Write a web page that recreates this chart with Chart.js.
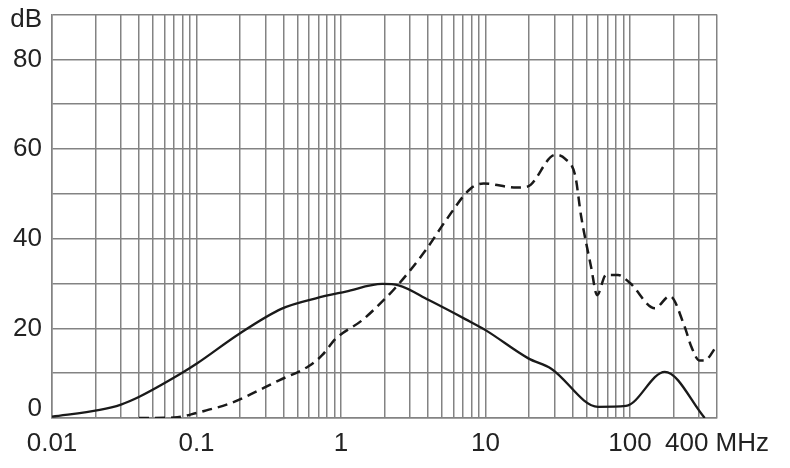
<!DOCTYPE html>
<html>
<head>
<meta charset="utf-8">
<script src="https://cdn.jsdelivr.net/npm/chart.js@4/dist/chart.umd.min.js"></script>
<style>
html,body{margin:0;padding:0;background:#fff;}
#wrap{width:790px;height:468px;}
</style>
</head>
<body>
<div id="wrap"><canvas id="c" width="790" height="468"></canvas></div>
<script>
// Frequency (MHz) and attenuation (dB)
const solidFreq = [0.01, 0.0214, 0.03, 0.0405, 0.076, 0.1, 0.198, 0.39, 0.67, 1.08, 1.93, 2.5, 4.05, 7.3, 10, 19.8, 28.5, 60, 93.8, 174, 329];
const solidDb   = [0.3, 1.8, 3.0, 4.8, 9.7, 12.1, 18.8, 24.4, 26.7, 28.2, 29.9, 29.6, 26.3, 22, 19.6, 13.3, 11, 2.5, 2.7, 10.3, 0];

const dashFreq = [0.04, 0.07, 0.1, 0.117, 0.169, 0.373, 0.6, 0.74, 0.92, 1.4, 2.03, 2.39, 3.85, 5.3, 7.9, 9.7, 16.4, 19.5, 30.4, 35.6, 41.8, 45.9, 53.8, 59.2, 68.2, 82.6, 100, 148.6, 188.8, 238, 265, 303, 327, 400];
const dashDb   = [0, 0.1, 1.1, 1.7, 3.2, 8.4, 11.6, 14, 17.7, 21.8, 26.7, 29.1, 37.4, 44, 51.2, 52.3, 51.4, 51.6, 58.7, 57.8, 54, 45, 33.7, 27.4, 31.9, 31.9, 30.1, 24.5, 27.2, 20.5, 16, 12.8, 12.8, 16.2];

const xMajorTicks  = [0.01, 0.1, 1, 10, 100, 400];
const xTickLabels  = ['0.01', '0.1', '1', '10', '100', '400 MHz'];
const yTickValues  = [0, 20, 40, 60, 80, 90];
const yTickLabels  = ['0', '20', '40', '60', '80', 'dB'];

const X_MIN = 0.01, X_MAX = 400, Y_MIN = 0, Y_MAX = 90;

function toPoints(xs, ys){ return xs.map((x,i)=>({x:x, y:ys[i]})); }
function near(a,b){ return Math.abs(Math.log10(a)-Math.log10(b)) < 1e-6; }

const GRID = '#838383';
const FAMILY = "'Liberation Sans', Arial, Helvetica, sans-serif";
const FONT = {family:FAMILY, size:26};

new Chart(document.getElementById('c'), {
  type:'line',
  data:{
    datasets:[
      {data:toPoints(solidFreq, solidDb), borderColor:'#1a1a1a', borderWidth:2.3, pointRadius:0, fill:false, cubicInterpolationMode:'monotone'},
      {data:toPoints(dashFreq, dashDb), borderColor:'#1a1a1a', borderWidth:2.5, borderDash:[10,6], pointRadius:0, fill:false, cubicInterpolationMode:'monotone'}
    ]
  },
  options:{
    responsive:false,
    animation:false,
    devicePixelRatio:1,
    layout:{padding:{left:0, right:73, top:14.5, bottom:0}},
    plugins:{legend:{display:false}, tooltip:{enabled:false}},
    scales:{
      x:{
        type:'logarithmic', min:X_MIN, max:X_MAX,
        afterBuildTicks:(s)=>{
          const t=[];
          for(let e=-2;e<=2;e++){
            for(let m=1;m<=9;m++){
              const v = m*Math.pow(10,e);
              if(v <= X_MAX*1.000001) t.push({value: parseFloat(v.toPrecision(6))});
            }
          }
          s.ticks = t;
        },
        afterFit:(s)=>{ s.height = 50; },
        grid:{color:GRID, lineWidth:1.5, drawTicks:false},
        border:{color:GRID, width:1.5},
        ticks:{
          autoSkip:false, maxRotation:0, minRotation:0, padding:10, color:'#222', font:FONT,
          callback:(v)=>{ const i = xMajorTicks.findIndex(m=>near(m,v)); return i>=0 ? xTickLabels[i] : ''; }
        }
      },
      y:{
        type:'linear', min:Y_MIN, max:Y_MAX,
        afterFit:(s)=>{ s.width = 52; s.paddingTop = 0; s.paddingBottom = 0; },
        grid:{color:GRID, lineWidth:1.5, drawTicks:false},
        border:{color:GRID, width:1.5},
        ticks:{
          stepSize:10, padding:10, color:'#222',
          font:(ctx)=>{
            const v = ctx.tick ? ctx.tick.value : null;
            if(v === Y_MAX) return {family:FAMILY, size:26, lineHeight:0.4};
            if(v === Y_MIN) return {family:FAMILY, size:26, lineHeight:0.68};
            return FONT;
          },
          callback:(v)=>{
            const i = yTickValues.indexOf(v);
            if(i < 0) return '';
            if(v === Y_MAX) return ['', yTickLabels[i]];
            if(v === Y_MIN) return [yTickLabels[i], ''];
            return yTickLabels[i];
          }
        }
      }
    }
  }
});
</script>
</body>
</html>
